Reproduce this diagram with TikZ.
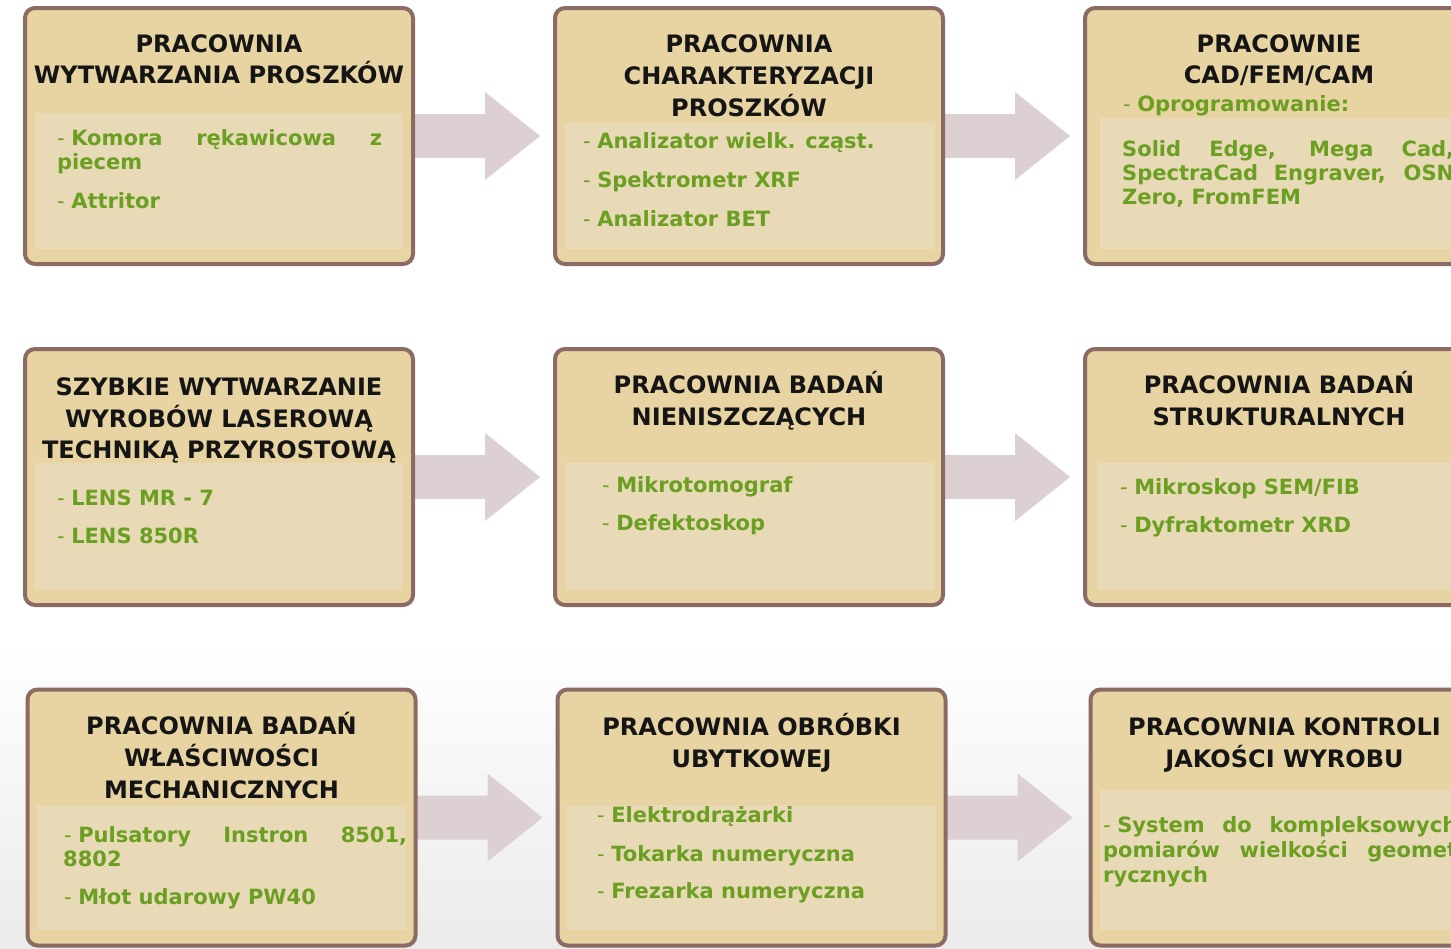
\documentclass[tikz,border=0pt]{standalone}
\usepackage{fontspec}
\setmainfont{DejaVu Sans}
\usetikzlibrary{calc}
\definecolor{boxfill}{HTML}{E7D4A2}
\definecolor{panelfill}{HTML}{E8DAB6}
\definecolor{boxborder}{HTML}{8C6B64}
\definecolor{itemgreen}{HTML}{6B9F22}
\definecolor{arrowfill}{HTML}{DDD0D2}
\definecolor{titleblack}{HTML}{151515}
\definecolor{bggray}{HTML}{EBEBEB}
\newcommand\dsh{{\mdseries -}\kern 6.5pt}
\newcommand\flowarrow[1]{\fill[blockarrow] ($(#1.east)+(-3,-22)$) -- ++(73,0) -- ++(0,-22) -- ++(55,44) -- ++(-55,44) -- ++(0,-22) -- ++(-73,0) -- cycle;}
\pgfdeclarelayer{arrowlayer}
\pgfsetlayers{arrowlayer,main}
\tikzset{
  labbox/.style={draw=boxborder, line width=4pt, rounded corners=10pt, fill=boxfill,
    minimum width=388pt, minimum height=256pt, inner sep=0pt},
  panel/.style={fill=panelfill},
  title/.style={anchor=base, font=\fontsize{24}{28}\selectfont\bfseries, text=titleblack, inner sep=0pt},
  item/.style={anchor=base west, font=\fontsize{21}{25}\selectfont\bfseries, text=itemgreen, inner sep=0pt},
  blockarrow/.style={fill=arrowfill}
}
\begin{document}
\begin{tikzpicture}[x=1pt,y=-1pt]
\useasboundingbox (0,0) rectangle (1451,948);
% boxes
\node[labbox] (b1) at (219,136) {};
\node[labbox] (b2) at (749,136) {};
\node[labbox] (b3) at (1279,136) {};
\node[labbox] (b4) at (219,477) {};
\node[labbox] (b5) at (749,477) {};
\node[labbox] (b6) at (1279,477) {};
\node[labbox] (b7) at (221.5,817.5) {};
\node[labbox] (b8) at (751.5,817.5) {};
\node[labbox] (b9) at (1284.5,817.5) {};
% panels
\fill[panel] (35,113) rectangle (403,249);
\fill[panel] (565,123) rectangle (935,249);
\fill[panel] (1100,118) rectangle (1465,249);
\fill[panel] (35,463) rectangle (403,590);
\fill[panel] (565,463) rectangle (935,590);
\fill[panel] (1097,463) rectangle (1465,590);
\fill[panel] (37,805) rectangle (406,930);
\fill[panel] (567,805) rectangle (936,930);
\fill[panel] (1100,790) rectangle (1470,930);
% box 1
\node[title] (t1a) at (219,52) {PRACOWNIA};
\node[title] (t1b) at (219,83) {WYTWARZANIA PROSZKÓW};
\node[item] (i1a) at (57,145) {\makebox[325pt][s]{\dsh Komora rękawicowa z}};
\node[item] (i1b) at (57,169) {piecem};
\node[item] (i1c) at (57,208) {\dsh Attritor};
% box 2
\node[title] (t2a) at (749,52) {PRACOWNIA};
\node[title] (t2b) at (749,84) {CHARAKTERYZACJI};
\node[title] (t2c) at (749,116) {PROSZKÓW};
\node[item] (i2a) at (583,148) {\dsh Analizator wielk. cząst.};
\node[item] (i2b) at (583,187) {\dsh Spektrometr XRF};
\node[item] (i2c) at (583,226) {\dsh Analizator BET};
% box 3
\node[title] (t3a) at (1279,52) {PRACOWNIE};
\node[title] (t3b) at (1279,83) {CAD/FEM/CAM};
\node[item] (i3a) at (1123,111) {\dsh Oprogramowanie:};
\node[item] (i3b) at (1122,156) {\makebox[332pt][s]{Solid Edge, Mega Cad,}};
\node[item] (i3c) at (1122,180) {\makebox[332pt][s]{SpectraCad Engraver, OSN}};
\node[item] (i3d) at (1122,204) {Zero, FromFEM};
% box 4
\node[title] (t4a) at (219,395) {SZYBKIE WYTWARZANIE};
\node[title] (t4b) at (219,427) {WYROBÓW LASEROWĄ};
\node[title] (t4c) at (219,458) {TECHNIKĄ PRZYROSTOWĄ};
\node[item] (i4a) at (57,505) {\dsh LENS MR - 7};
\node[item] (i4b) at (57,543) {\dsh LENS 850R};
% box 5
\node[title] (t5a) at (749,393) {PRACOWNIA BADAŃ};
\node[title] (t5b) at (749,425) {NIENISZCZĄCYCH};
\node[item] (i5a) at (602,492) {\dsh Mikrotomograf};
\node[item] (i5b) at (602,530) {\dsh Defektoskop};
% box 6
\node[title] (t6a) at (1279,393) {PRACOWNIA BADAŃ};
\node[title] (t6b) at (1279,425) {STRUKTURALNYCH};
\node[item] (i6a) at (1120,494) {\dsh Mikroskop SEM/FIB};
\node[item] (i6b) at (1120,532) {\dsh Dyfraktometr XRD};
% box 7
\node[title] (t7a) at (221.5,734) {PRACOWNIA BADAŃ};
\node[title] (t7b) at (221.5,766) {WŁAŚCIWOŚCI};
\node[title] (t7c) at (221.5,798) {MECHANICZNYCH};
\node[item] (i7a) at (64,842) {\makebox[343pt][s]{\dsh Pulsatory Instron 8501,}};
\node[item] (i7b) at (63,866) {8802};
\node[item] (i7c) at (64,904) {\dsh Młot udarowy PW40};
% box 8
\node[title] (t8a) at (751.5,735) {PRACOWNIA OBRÓBKI};
\node[title] (t8b) at (751.5,767) {UBYTKOWEJ};
\node[item] (i8a) at (597,822) {\dsh Elektrodrążarki};
\node[item] (i8b) at (597,861) {\dsh Tokarka numeryczna};
\node[item] (i8c) at (597,898) {\dsh Frezarka numeryczna};
% box 9
\node[title] (t9a) at (1284.5,735) {PRACOWNIA KONTROLI};
\node[title] (t9b) at (1284.5,767) {JAKOŚCI WYROBU};
\node[item] (i9a) at (1103,832) {\makebox[354pt][s]{\dsh System do kompleksowych}};
\node[item] (i9b) at (1103,857) {\makebox[354pt][s]{pomiarów wielkości geomet}};
\node[item] (i9c) at (1103,882) {rycznych};
% background and arrows
\begin{pgfonlayer}{arrowlayer}
\fill[top color=white, bottom color=bggray] (0,640) rectangle (1451,948);
\flowarrow{b1}
\flowarrow{b2}
\flowarrow{b4}
\flowarrow{b5}
\flowarrow{b7}
\flowarrow{b8}
\end{pgfonlayer}
\end{tikzpicture}
\end{document}
